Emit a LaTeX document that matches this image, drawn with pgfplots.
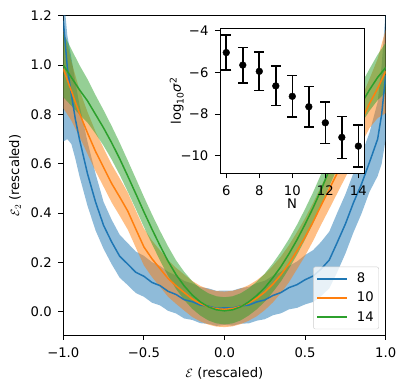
\documentclass[border=0pt]{standalone}
\usepackage{fontspec}
\setmainfont{DejaVu Sans}
\usepackage{pgfplots}
\usepackage{pgfplotstable}
\pgfplotsset{compat=1.18}
\usepgfplotslibrary{fillbetween}

\definecolor{c0}{RGB}{31,119,180}
\definecolor{c1}{RGB}{255,127,14}
\definecolor{c2}{RGB}{44,160,44}

% N = 8: mean and band
\pgfplotstableread{
x      m      lo      hi
-1.00  1.180  0.690   1.300
-0.975 0.990  0.700   1.120
-0.95  0.880  0.680   1.030
-0.925 0.780  0.620   0.930
-0.90  0.700  0.550   0.840
-0.85  0.560  0.430   0.690
-0.80  0.445  0.330   0.560
-0.75  0.350  0.255   0.445
-0.70  0.283  0.193   0.373
-0.65  0.225  0.138   0.312
-0.60  0.193  0.108   0.278
-0.55  0.160  0.076   0.244
-0.50  0.144  0.061   0.227
-0.45  0.119  0.037   0.201
-0.40  0.106  0.026   0.186
-0.35  0.083  0.004   0.162
-0.30  0.070  -0.007  0.147
-0.25  0.049  -0.027  0.125
-0.20  0.041  -0.033  0.115
-0.15  0.027  -0.046  0.100
-0.10  0.023  -0.049  0.095
-0.05  0.014  -0.057  0.085
0.00   0.016  -0.054  0.086
0.05   0.015  -0.056  0.086
0.10   0.024  -0.048  0.096
0.15   0.027  -0.047  0.101
0.20   0.040  -0.036  0.116
0.25   0.048  -0.030  0.126
0.30   0.066  -0.014  0.146
0.35   0.078  -0.006  0.162
0.40   0.098  0.010   0.186
0.45   0.110  0.016   0.204
0.50   0.130  0.030   0.230
0.55   0.145  0.040   0.250
0.60   0.174  0.064   0.284
0.65   0.210  0.095   0.325
0.70   0.282  0.162   0.402
0.75   0.356  0.236   0.476
0.80   0.442  0.322   0.562
0.85   0.518  0.398   0.638
0.90   0.607  0.487   0.727
0.95   0.700  0.550   0.850
0.975  0.800  0.600   1.000
1.00   0.960  0.700   1.220
}\dataA

% N = 10
\pgfplotstableread{
x      m      lo      hi
-1.00  0.985  0.825   1.145
-0.95  0.895  0.775   1.015
-0.90  0.805  0.710   0.900
-0.85  0.725  0.640   0.810
-0.80  0.650  0.570   0.730
-0.75  0.585  0.507   0.663
-0.70  0.520  0.443   0.597
-0.65  0.465  0.389   0.541
-0.60  0.408  0.333   0.483
-0.55  0.335  0.260   0.410
-0.50  0.263  0.188   0.338
-0.45  0.215  0.141   0.289
-0.40  0.175  0.101   0.249
-0.35  0.135  0.061   0.209
-0.30  0.105  0.032   0.178
-0.25  0.078  0.005   0.151
-0.20  0.052  -0.021  0.125
-0.15  0.033  -0.039  0.105
-0.10  0.020  -0.052  0.092
-0.05  0.012  -0.060  0.084
0.00   0.010  -0.062  0.082
0.05   0.013  -0.059  0.085
0.10   0.022  -0.050  0.094
0.15   0.036  -0.036  0.108
0.20   0.055  -0.018  0.128
0.25   0.080  0.007   0.153
0.30   0.112  0.038   0.186
0.35   0.150  0.076   0.224
0.40   0.195  0.120   0.270
0.45   0.248  0.173   0.323
0.50   0.303  0.227   0.379
0.55   0.365  0.288   0.442
0.60   0.432  0.354   0.510
0.65   0.497  0.417   0.577
0.70   0.563  0.481   0.645
0.75   0.630  0.545   0.715
0.80   0.700  0.612   0.788
0.85   0.775  0.683   0.867
0.90   0.845  0.745   0.945
0.95   0.905  0.785   1.025
1.00   0.975  0.805   1.145
}\dataB

% N = 14
\pgfplotstableread{
x      m      lo      hi
-1.00  1.000  0.870   1.130
-0.95  0.950  0.835   1.065
-0.90  0.900  0.800   1.000
-0.85  0.855  0.767   0.943
-0.80  0.800  0.722   0.878
-0.75  0.745  0.673   0.817
-0.70  0.685  0.617   0.753
-0.65  0.620  0.555   0.685
-0.60  0.550  0.487   0.613
-0.55  0.478  0.416   0.540
-0.50  0.405  0.344   0.466
-0.45  0.335  0.275   0.395
-0.40  0.268  0.208   0.328
-0.35  0.205  0.145   0.265
-0.30  0.150  0.092   0.208
-0.25  0.105  0.048   0.162
-0.20  0.068  0.012   0.124
-0.15  0.040  -0.015  0.095
-0.10  0.020  -0.035  0.075
-0.05  0.008  -0.047  0.063
0.00   0.004  -0.051  0.059
0.05   0.008  -0.047  0.063
0.10   0.020  -0.035  0.075
0.15   0.040  -0.015  0.095
0.20   0.066  0.010   0.122
0.25   0.098  0.041   0.155
0.30   0.138  0.080   0.196
0.35   0.183  0.123   0.243
0.40   0.235  0.175   0.295
0.45   0.292  0.231   0.353
0.50   0.355  0.293   0.417
0.55   0.422  0.359   0.485
0.60   0.495  0.431   0.559
0.65   0.575  0.509   0.641
0.70   0.650  0.582   0.718
0.75   0.720  0.648   0.792
0.80   0.785  0.709   0.861
0.85   0.845  0.765   0.925
0.90   0.900  0.815   0.985
0.95   0.950  0.858   1.042
1.00   0.990  0.890   1.090
}\dataC

% inset: log10 sigma^2 vs N
\pgfplotstableread{
N   v      e
6   -5.05  0.85
7   -5.65  0.85
8   -5.95  0.92
9   -6.65  0.95
10  -7.15  1.00
11  -7.65  0.97
12  -8.42  0.99
13  -9.12  1.01
14  -9.54  1.00
}\sigdata

\newcommand{\fs}{\fontsize{13.2pt}{15pt}\selectfont}

\pgfplotsset{
  every axis/.append style={
    scale only axis,
    tick align=outside,
    major tick length=5pt,
    tick style={black, line width=0.9pt},
    axis line style={line width=0.9pt},
    xtick pos=bottom, ytick pos=left,
    tick label style={font=\fs},
    label style={font=\fs},
    xticklabel style={anchor=base, yshift=-17.5pt},
    yticklabel style={anchor=east, xshift=-2pt},
  },
}

\begin{document}
\fs
\begin{tikzpicture}
\begin{axis}[
    at={(0pt,0pt)}, anchor=south west,
    width=322.4pt, height=319.3pt,
    xmin=-1, xmax=1, ymin=-0.094, ymax=1.2,
    xtick={-1,-0.5,0,0.5,1},
    xticklabels={−1.0,−0.5,0.0,0.5,1.0},
    ytick={0,0.2,0.4,0.6,0.8,1.0,1.2},
    yticklabels={0.0,0.2,0.4,0.6,0.8,1.0,1.2},
    xlabel={$\mathcal{E}$ (rescaled)},
    ylabel={$\mathcal{E}_2$ (rescaled)},
    xlabel style={at={(axis description cs:0.5,-0.12)}, anchor=center},
    ylabel style={at={(axis description cs:-0.15,0.5)}, anchor=center},
    legend style={at={(0.979,0.018)}, anchor=south east, draw=black!20,
      fill=white, fill opacity=0.8, text opacity=1, rounded corners=2pt,
      row sep=3.5pt, inner xsep=3pt, inner ysep=4pt, font=\fs,
      /tikz/every odd column/.append style={column sep=7pt}},
    legend cell align=left,
    legend image code/.code={\draw[#1, line width=1.5pt] (0pt,0pt) -- (30pt,0pt);},
]
\addplot[draw=none, name path=alo, forget plot] table[x=x, y=lo] {\dataA};
\addplot[draw=none, name path=ahi, forget plot] table[x=x, y=hi] {\dataA};
\addplot[fill=c0, fill opacity=0.5, draw=none, forget plot] fill between[of=alo and ahi];
\addplot[draw=none, name path=blo, forget plot] table[x=x, y=lo] {\dataB};
\addplot[draw=none, name path=bhi, forget plot] table[x=x, y=hi] {\dataB};
\addplot[fill=c1, fill opacity=0.5, draw=none, forget plot] fill between[of=blo and bhi];
\addplot[draw=none, name path=clo, forget plot] table[x=x, y=lo] {\dataC};
\addplot[draw=none, name path=chi, forget plot] table[x=x, y=hi] {\dataC};
\addplot[fill=c2, fill opacity=0.5, draw=none, forget plot] fill between[of=clo and chi];

\addplot[c0, line width=1.5pt] table[x=x, y=m] {\dataA};
\addplot[c1, line width=1.5pt] table[x=x, y=m] {\dataB};
\addplot[c2, line width=1.5pt] table[x=x, y=m] {\dataC};
\legend{8,10,14}
\end{axis}

\begin{axis}[
    at={(156.7pt,161.7pt)}, anchor=south west,
    width=144.3pt, height=145pt,
    axis background/.style={fill=white},
    xmin=5.62, xmax=14.36, ymin=-10.845, ymax=-3.885,
    xtick={6,8,10,12,14},
    xticklabels={6,8,10,12,14},
    ytick={-10,-8,-6,-4},
    yticklabels={−10,−8,−6,−4},
    xlabel={N},
    ylabel={log\textsubscript{10}\textit{σ}\textsuperscript{2}},
    xlabel style={at={(axis description cs:0.5,-0.207)}, anchor=center},
    ylabel style={at={(axis description cs:-0.3,0.5)}, anchor=center},
]
\addplot[black, only marks, mark=*, mark size=3.4pt,
    error bars/.cd, y dir=both, y explicit,
    error bar style={line width=1.6pt},
    error mark options={rotate=90, mark size=5pt, line width=1.6pt}]
  table[x=N, y=v, y error=e] {\sigdata};
\end{axis}
\pgfresetboundingbox
\path[use as bounding box] (-63.3pt,-56pt) rectangle (344.7pt,335pt);
\end{tikzpicture}
\end{document}
